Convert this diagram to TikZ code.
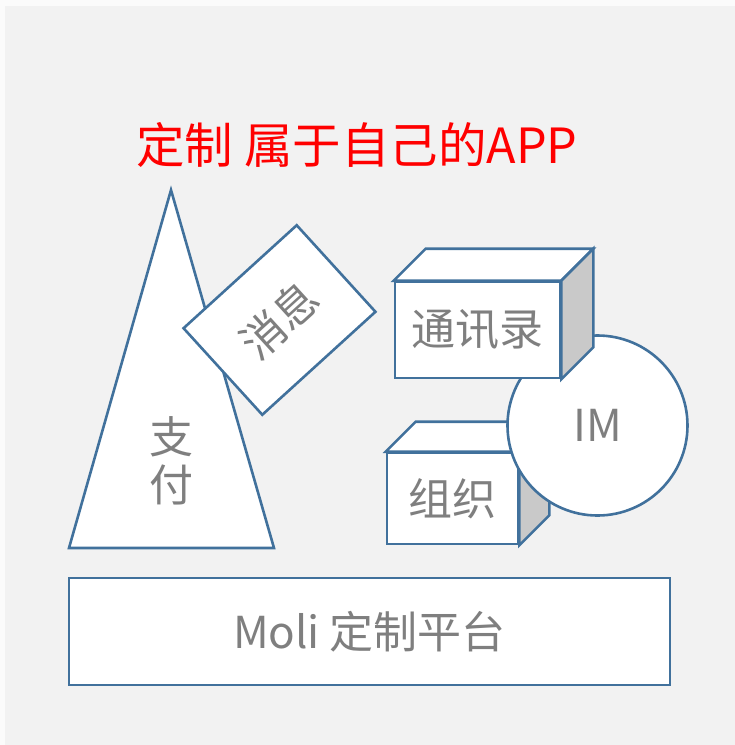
\documentclass[tikz,border=0pt]{standalone}
\usepackage{fontspec}
\setmainfont{Noto Sans CJK SC}
\definecolor{edgeblue}{HTML}{41719C}
\definecolor{labelgray}{HTML}{7F7F7F}
\definecolor{sidegray}{HTML}{C9C9C9}
\definecolor{bggray}{HTML}{F2F2F2}
\begin{document}
\begin{tikzpicture}[x=1pt,y=-1pt,
  shapeline/.style={draw=edgeblue,line width=2.6pt,line join=miter},
  face/.style={shapeline,fill=white},
  sideface/.style={shapeline,fill=sidegray},
  lbl/.style={text=labelgray,font=\fontsize{44}{50}\selectfont},
  frontbox/.style={face,rectangle,inner sep=0pt,lbl}]
\useasboundingbox (0,0) rectangle (735,745);
\fill[white!97!gray] (0,0) rectangle (735,745);
\fill[bggray] (5,6) rectangle (735,745);

% title
\node[text=red,font=\fontsize{48.5}{54}\selectfont] (title) at (357,145) {定制 属于自己的APP};

% triangle (支付)
\coordinate (tA) at (171,190);
\coordinate (tL) at (69,548);
\coordinate (tR) at (274,548);
\draw[face] (tA) -- (tR) -- (tL) -- cycle;
\node[lbl,align=center,font=\fontsize{44}{48}\selectfont] (pay) at (171,461) {支\\付};

% rotated box (消息)
\node[face,lbl,rectangle,inner sep=0pt,minimum width=153pt,minimum height=117pt,rotate=42.3] (msg) at (279.5,320) {消息};

% cube 组织
\node[frontbox,minimum width=131pt,minimum height=91pt] (org) at (452.5,498.5) {组织};
\draw[face] (org.north west) -- ++(30,-30) -- ([shift={(30,-30)}]org.north east) -- (org.north east) -- cycle;
\draw[sideface] (org.north east) -- ++(30,-30) -- ([shift={(30,-30)}]org.south east) -- (org.south east) -- cycle;

% circle IM
\node[face,circle,lbl,minimum size=180pt,inner sep=0pt] (im) at (597.5,425.5) {IM};

% cube 通讯录
\node[frontbox,minimum width=165pt,minimum height=96pt] (contacts) at (477.5,330) {通讯录};
\draw[face] (contacts.north west) -- ++(32,-32) -- ([shift={(32,-32)}]contacts.north east) -- (contacts.north east) -- cycle;
\draw[sideface] (contacts.north east) -- ++(32,-32) -- ([shift={(32,-32)}]contacts.south east) -- (contacts.south east) -- cycle;

% base platform
\node[face,lbl,rectangle,inner sep=0pt,minimum width=601pt,minimum height=107pt] (base) at (369.5,631.5) {Moli 定制平台};
\end{tikzpicture}
\end{document}
